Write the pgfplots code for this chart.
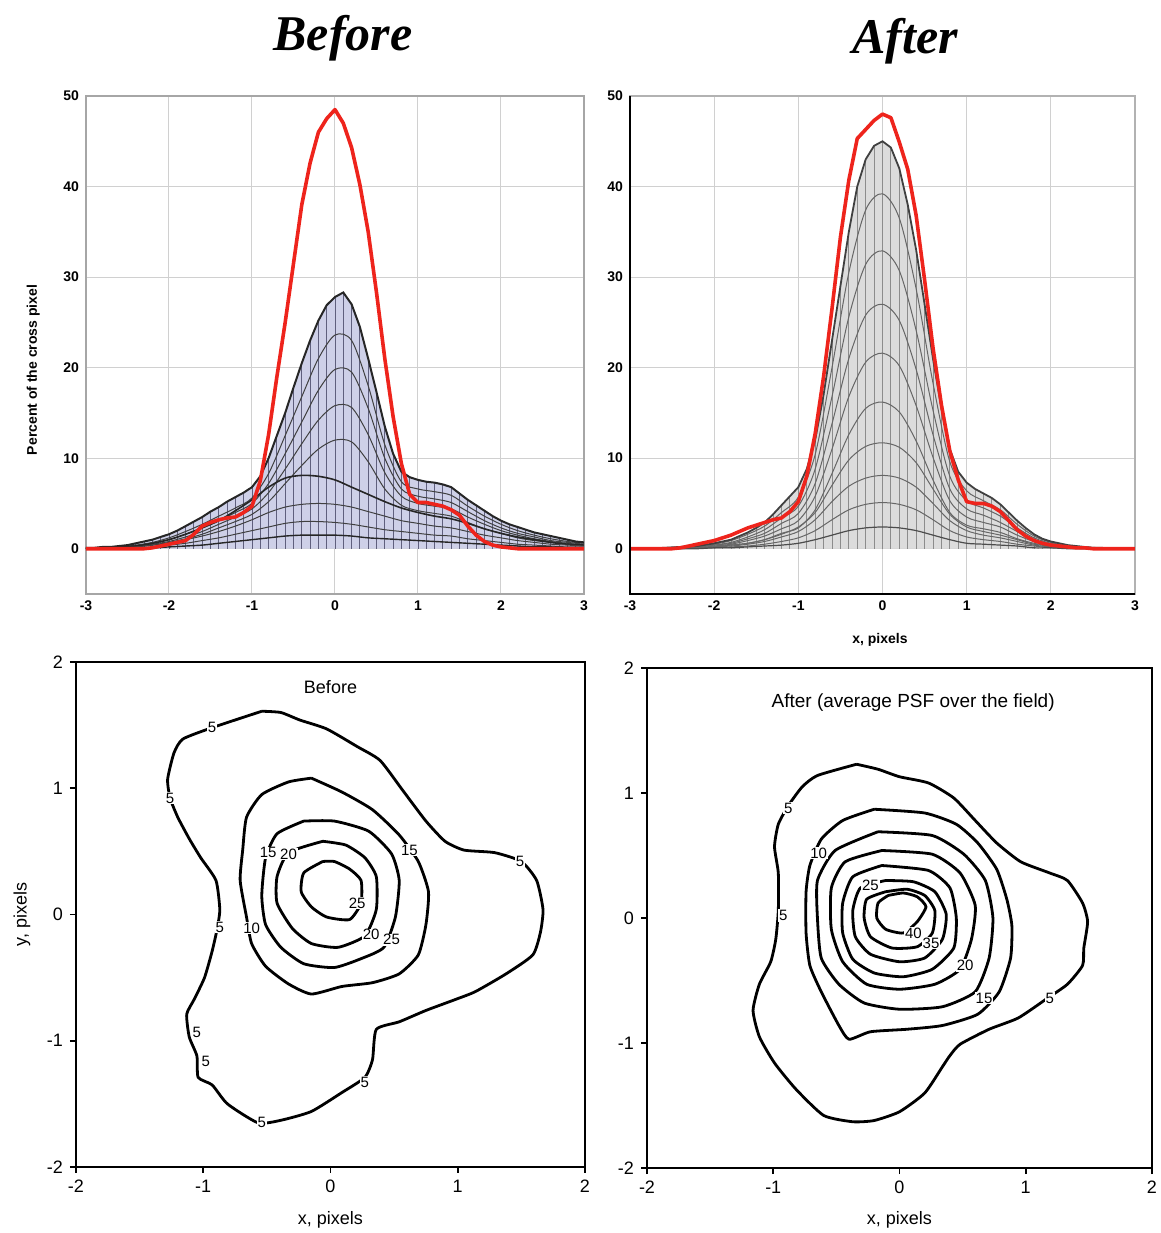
\documentclass[border=0pt]{standalone}
\usepackage{fontspec}
\setmainfont{Liberation Sans}
\newfontfamily\serifT{Liberation Serif}
\usepackage{pgfplots}
\pgfplotsset{compat=1.18}
\usepackage{pgfplotstable}

\definecolor{redc}{RGB}{238,36,28}
\definecolor{lav}{RGB}{206,208,232}
\definecolor{lgr}{RGB}{220,220,220}
\definecolor{gridc}{RGB}{208,208,208}
\definecolor{vlav}{RGB}{95,95,125}

% envelope of the profile family, Before
\pgfplotstableread{
x y
-3.0 0.1
-2.9 0.1
-2.8 0.2
-2.7 0.2
-2.6 0.3
-2.5 0.4
-2.4 0.6
-2.3 0.8
-2.2 1.0
-2.1 1.3
-2.0 1.6
-1.9 2.0
-1.8 2.5
-1.7 3.0
-1.6 3.5
-1.5 4.1
-1.4 4.6
-1.3 5.2
-1.2 5.7
-1.1 6.2
-1.0 6.8
-0.9 8.0
-0.8 10.0
-0.7 12.5
-0.6 15.0
-0.5 17.8
-0.4 20.5
-0.3 23.0
-0.2 25.2
-0.1 26.9
0.0 27.8
0.1 28.3
0.2 27.0
0.3 24.5
0.4 21.0
0.5 17.3
0.6 13.5
0.7 10.5
0.8 8.5
0.9 7.9
1.0 7.6
1.1 7.4
1.2 7.3
1.3 7.1
1.4 6.8
1.5 6.1
1.6 5.4
1.7 4.8
1.8 4.2
1.9 3.6
2.0 3.1
2.1 2.7
2.2 2.4
2.3 2.1
2.4 1.8
2.5 1.6
2.6 1.4
2.7 1.2
2.8 1.0
2.9 0.8
3.0 0.7
}\envB

\pgfplotstableread{
x y
-3.0 0
-2.9 0
-2.8 0
-2.7 0
-2.6 0
-2.5 0
-2.4 0
-2.3 0
-2.2 0.1
-2.1 0.3
-2.0 0.5
-1.9 0.7
-1.8 0.9
-1.7 1.6
-1.6 2.5
-1.5 2.9
-1.4 3.2
-1.3 3.4
-1.2 3.5
-1.1 4.0
-1.0 4.7
-0.9 7.5
-0.8 12.6
-0.7 19.0
-0.6 25.0
-0.5 31.5
-0.4 38.0
-0.3 42.6
-0.2 46.0
-0.1 47.5
0.0 48.5
0.1 47.0
0.2 44.3
0.3 40.2
0.4 35.0
0.5 28.3
0.6 21.0
0.7 14.6
0.8 9.4
0.9 6.0
1.0 5.1
1.1 5.1
1.2 4.9
1.3 4.7
1.4 4.3
1.5 3.7
1.6 2.5
1.7 1.5
1.8 0.8
1.9 0.4
2.0 0.2
2.1 0.1
2.2 0
2.4 0
2.6 0
2.8 0
3.0 0
}\redB

\pgfplotstableread{
x f1 f2 f3 f4 f5 f6 f7 f8
-3.0 0.1 0.1 0.1 0.0 0.0 0.0 0.0 0.0
-2.8 0.1 0.1 0.1 0.1 0.1 0.1 0.0 0.0
-2.6 0.2 0.2 0.1 0.1 0.2 0.1 0.1 0.0
-2.4 0.4 0.3 0.3 0.2 0.3 0.2 0.1 0.1
-2.2 0.7 0.6 0.5 0.4 0.6 0.4 0.2 0.1
-2.0 1.2 1.0 0.8 0.7 1.0 0.6 0.4 0.2
-1.8 1.9 1.6 1.3 1.1 1.6 1.0 0.6 0.3
-1.6 2.7 2.3 1.9 1.6 2.3 1.4 0.9 0.4
-1.4 3.6 3.1 2.7 2.3 3.1 1.9 1.2 0.6
-1.2 4.5 4.0 3.5 3.0 4.2 2.5 1.6 0.8
-1.0 5.6 5.0 4.4 3.8 5.4 3.2 2.0 1.0
-0.8 8.3 7.2 6.2 5.2 6.8 4.0 2.4 1.2
-0.6 12.5 10.5 8.8 7.2 7.8 4.6 2.8 1.4
-0.4 16.8 14.0 11.6 9.2 8.1 4.9 3.0 1.5
-0.2 21.0 17.5 14.2 11.0 8.0 5.0 3.0 1.5
0.0 23.6 19.8 15.8 12.0 7.6 4.9 2.9 1.5
0.2 23.0 19.5 15.6 11.8 6.8 4.6 2.7 1.4
0.4 18.0 15.5 12.6 9.6 6.0 4.1 2.4 1.2
0.6 11.5 10.0 8.4 6.6 5.2 3.6 2.1 1.1
0.8 7.4 6.6 5.8 4.8 4.5 3.1 1.9 1.0
1.0 6.6 5.8 5.0 4.2 4.0 2.8 1.7 0.9
1.2 6.3 5.5 4.7 3.9 3.6 2.5 1.5 0.8
1.4 5.9 5.1 4.4 3.6 3.3 2.3 1.4 0.7
1.6 4.7 4.1 3.5 2.9 2.8 1.9 1.1 0.6
1.8 3.6 3.1 2.7 2.2 2.2 1.5 0.9 0.5
2.0 2.7 2.3 2.0 1.7 1.7 1.2 0.7 0.4
2.2 2.0 1.7 1.5 1.2 1.3 0.9 0.5 0.3
2.4 1.5 1.3 1.1 0.9 1.0 0.7 0.4 0.2
2.6 1.1 0.9 0.8 0.7 0.7 0.5 0.3 0.2
2.8 0.8 0.7 0.6 0.5 0.5 0.4 0.2 0.1
3.0 0.6 0.5 0.4 0.4 0.4 0.3 0.2 0.1
}\famB

% After
\pgfplotstableread{
x y
-3.0 0
-2.9 0
-2.8 0
-2.7 0.05
-2.6 0.1
-2.5 0.15
-2.4 0.2
-2.3 0.25
-2.2 0.3
-2.1 0.45
-2.0 0.6
-1.9 0.8
-1.8 1.0
-1.7 1.4
-1.6 1.8
-1.5 2.3
-1.4 2.9
-1.3 3.8
-1.2 4.8
-1.1 5.8
-1.0 6.8
-0.9 8.8
-0.8 12.0
-0.7 17.0
-0.6 23.0
-0.5 29.0
-0.4 35.0
-0.3 40.0
-0.2 43.0
-0.1 44.5
0.0 45.0
0.1 44.3
0.2 42.0
0.3 38.0
0.4 33.0
0.5 27.0
0.6 21.0
0.7 15.5
0.8 11.0
0.9 8.5
1.0 7.3
1.1 6.6
1.2 6.1
1.3 5.6
1.4 4.9
1.5 4.0
1.6 3.1
1.7 2.3
1.8 1.6
1.9 1.1
2.0 0.8
2.1 0.6
2.2 0.4
2.3 0.3
2.4 0.2
2.5 0.1
2.6 0.1
2.7 0.05
2.8 0
2.9 0
3.0 0
}\envA

\pgfplotstableread{
x y
-3.0 0
-2.8 0
-2.6 0
-2.5 0
-2.4 0.1
-2.3 0.3
-2.2 0.5
-2.1 0.7
-2.0 0.9
-1.9 1.2
-1.8 1.5
-1.7 1.9
-1.6 2.3
-1.5 2.6
-1.4 2.9
-1.3 3.2
-1.2 3.4
-1.1 4.1
-1.0 5.2
-0.9 8.0
-0.8 12.7
-0.7 19.0
-0.6 26.5
-0.5 34.4
-0.4 40.7
-0.3 45.3
-0.2 46.3
-0.1 47.3
0.0 48.0
0.1 47.6
0.2 44.9
0.3 41.9
0.4 36.8
0.5 29.7
0.6 22.2
0.7 15.9
0.8 10.8
0.9 7.6
1.0 5.2
1.1 5.0
1.2 5.0
1.3 4.7
1.4 4.1
1.5 3.1
1.6 2.1
1.7 1.4
1.8 0.9
1.9 0.6
2.0 0.4
2.1 0.3
2.2 0.2
2.3 0.1
2.4 0.1
2.5 0
2.7 0
3.0 0
}\redA

\pgfplotstableread{
x g1 g2 g3 g4 g5 g6 g7 g8 g9
-3.0 0 0 0 0 0 0 0 0 0
-2.8 0 0 0 0 0 0 0 0 0
-2.6 0.1 0.1 0.1 0 0 0 0 0 0
-2.4 0.2 0.1 0.1 0.1 0.1 0.1 0.1 0 0
-2.2 0.3 0.2 0.2 0.1 0.1 0.1 0.1 0.1 0
-2.0 0.5 0.4 0.4 0.3 0.2 0.2 0.2 0.1 0.1
-1.8 0.9 0.7 0.6 0.5 0.4 0.4 0.3 0.2 0.1
-1.6 1.6 1.3 1.1 0.9 0.6 0.6 0.5 0.3 0.2
-1.4 2.5 2.1 1.7 1.4 1.0 1.0 0.8 0.5 0.3
-1.2 4.0 3.4 2.8 2.2 1.7 1.6 1.3 0.8 0.4
-1.0 5.7 4.7 3.9 3.1 2.3 2.4 1.9 1.2 0.6
-0.8 10.4 8.8 7.2 5.8 4.3 4.0 3.2 2.0 1.0
-0.6 20.0 16.8 13.8 11.0 8.3 7.0 5.2 3.2 1.5
-0.4 30.5 25.6 21.0 16.8 12.6 9.8 6.9 4.3 2.0
-0.2 37.4 31.4 25.8 20.6 15.5 11.3 7.8 4.9 2.3
0.0 39.2 32.9 27.0 21.6 16.2 11.7 8.1 5.1 2.4
0.2 36.5 30.7 25.2 20.2 15.1 11.2 7.8 4.9 2.3
0.4 28.7 24.1 19.8 15.8 11.9 9.5 6.8 4.3 2.0
0.6 18.3 15.3 12.6 10.1 7.6 6.6 5.0 3.2 1.5
0.8 9.6 8.0 6.6 5.3 4.0 3.8 3.1 2.0 1.0
1.0 6.4 5.3 4.4 3.5 2.6 2.4 2.0 1.3 0.6
1.2 5.3 4.5 3.7 2.9 2.2 1.9 1.5 1.0 0.5
1.4 4.3 3.6 2.9 2.4 1.8 1.5 1.2 0.8 0.4
1.6 2.7 2.3 1.9 1.5 1.1 1.0 0.8 0.5 0.3
1.8 1.4 1.2 1.0 0.8 0.6 0.5 0.4 0.3 0.1
2.0 0.7 0.6 0.5 0.4 0.3 0.3 0.2 0.1 0.1
2.2 0.3 0.3 0.2 0.2 0.1 0.1 0.1 0.1 0
2.4 0.2 0.1 0.1 0.1 0.1 0.1 0 0 0
2.6 0.1 0.1 0.1 0 0 0 0 0 0
2.8 0 0 0 0 0 0 0 0 0
3.0 0 0 0 0 0 0 0 0 0
}\famA

\pgfplotsset{
  every axis title shift=0pt,
  profax/.style={scale only axis, width=#1, height=249pt,
    xmin=-3, xmax=3, ymin=-5, ymax=50,
    xtick={-3,...,3}, ytick={0,10,...,50},
    grid=major, grid style={gridc, line width=0.5pt},
    major tick length=0pt,
    ticklabel style={font=\fontsize{7}{8}\selectfont\bfseries},
    /pgf/number format/assume math mode=true,
    clip mode=individual},
  contax/.style={scale only axis,
    xmin=-2, xmax=2, ymin=-2, ymax=2,
    xtick={-2,...,2}, ytick={-2,...,2},
    axis line style={black, line width=1.2pt},
    tick style={black, line width=0.8pt},
    tick align=outside, major tick length=3pt,
    xtick pos=left, ytick pos=left,
    ticklabel style={font=\fontsize{9}{10}\selectfont},
    /pgf/number format/assume math mode=true,
    label style={font=\fontsize{9}{10}\selectfont},
    clip mode=individual},
  cline/.style={black, line width=1.4pt, smooth, tension=0.35, line join=round},
  clab/.style={only marks, mark=*, mark size=0pt,
    mark options={draw=none, fill=none},
    nodes near coords, point meta=explicit symbolic,
    every node near coord/.append style={anchor=center, fill=white,
      draw=none, inner sep=0.4pt, font=\fontsize{7.5}{8}\selectfont,
      text=black, fill opacity=1, text opacity=1, opacity=1}},
}

\begin{document}
\begin{tikzpicture}
\path[use as bounding box] (0,0) rectangle (580.5pt,616.5pt);

% ---------------- top left: Before profiles
\begin{axis}[profax=249pt, at={(43pt,319.5pt)}, anchor=south west,
  axis line style={gray!70, line width=0.6pt},
  title={\serifT\bfseries\itshape Before},
  title style={at={(0.516,1.092)}, anchor=base, font=\fontsize{25}{28}\selectfont},
  ylabel={Percent of the cross pixel},
  ylabel style={at={(axis description cs:-0.106,0.45)}, anchor=center,
    font=\fontsize{7}{8}\selectfont\bfseries}]
\addplot[fill=lav, draw=none] table[x=x,y=y]{\envB} \closedcycle;
\addplot[ycomb, draw=vlav, line width=0.45pt] table[x=x,y=y]{\envB};
\addplot[black!75, line width=0.5pt, smooth] table[x=x,y=f1]{\famB};
\addplot[black!75, line width=0.5pt, smooth] table[x=x,y=f2]{\famB};
\addplot[black!75, line width=0.5pt, smooth] table[x=x,y=f3]{\famB};
\addplot[black!75, line width=0.5pt, smooth] table[x=x,y=f4]{\famB};
\addplot[black!85, line width=0.8pt, smooth] table[x=x,y=f5]{\famB};
\addplot[black!75, line width=0.5pt, smooth] table[x=x,y=f6]{\famB};
\addplot[black!75, line width=0.5pt, smooth] table[x=x,y=f7]{\famB};
\addplot[black!85, line width=0.7pt, smooth] table[x=x,y=f8]{\famB};
\addplot[black!85, line width=1pt] table[x=x,y=y]{\envB};
\addplot[redc, line width=1.8pt, line join=round] table[x=x,y=y]{\redB};
\end{axis}

% ---------------- top right: After profiles
\begin{axis}[profax=252.5pt, at={(315pt,319.5pt)}, anchor=south west,
  axis line style={gray!60, line width=0.6pt},
  title={\serifT\bfseries\itshape After},
  title style={at={(0.545,1.086)}, anchor=base, font=\fontsize{25}{28}\selectfont},
  xlabel={x, pixels},
  xlabel style={at={(axis description cs:0.495,-0.092)}, anchor=center,
    font=\fontsize{7}{8}\selectfont\bfseries}]
\addplot[fill=lgr, draw=none] table[x=x,y=y]{\envA} \closedcycle;
\addplot[ycomb, draw=black!45, line width=0.45pt] table[x=x,y=y]{\envA};
\addplot[black!60, line width=0.5pt, smooth] table[x=x,y=g1]{\famA};
\addplot[black!60, line width=0.5pt, smooth] table[x=x,y=g2]{\famA};
\addplot[black!60, line width=0.5pt, smooth] table[x=x,y=g3]{\famA};
\addplot[black!60, line width=0.5pt, smooth] table[x=x,y=g4]{\famA};
\addplot[black!60, line width=0.5pt, smooth] table[x=x,y=g5]{\famA};
\addplot[black!60, line width=0.5pt, smooth] table[x=x,y=g6]{\famA};
\addplot[black!60, line width=0.5pt, smooth] table[x=x,y=g7]{\famA};
\addplot[black!60, line width=0.5pt, smooth] table[x=x,y=g8]{\famA};
\addplot[black!70, line width=0.6pt, smooth] table[x=x,y=g9]{\famA};
\addplot[black!75, line width=0.9pt] table[x=x,y=y]{\envA};
\addplot[redc, line width=1.8pt, line join=round] table[x=x,y=y]{\redA};
\draw[black, line width=1pt] (rel axis cs:0,1) -- (rel axis cs:0,0) -- (rel axis cs:1,0);
\end{axis}

% ---------------- bottom left: Before contours
\begin{axis}[contax, at={(38pt,33pt)}, anchor=south west,
  width=254.5pt, height=252.5pt,
  title={Before}, title style={at={(0.5,0.95)}, anchor=center, font=\fontsize{9}{10}\selectfont},
  xlabel={x, pixels}, ylabel={y, pixels},
  xlabel style={at={(axis description cs:0.5,-0.105)}, anchor=center},
  ylabel style={at={(axis description cs:-0.106,0.5)}, anchor=center}]
\addplot[cline] coordinates {(-0.54,1.61) (-0.93,1.48) (-1.16,1.39) (-1.23,1.28) (-1.28,1.07) (-1.26,0.92) (-1.20,0.77) (-1.11,0.60) (-1.02,0.45) (-0.90,0.27) (-0.87,0.04) (-0.89,-0.11) (-0.93,-0.29) (-0.99,-0.50) (-1.07,-0.67) (-1.13,-0.79) (-1.11,-0.97) (-1.05,-1.12) (-1.04,-1.29) (-0.93,-1.35) (-0.81,-1.50) (-0.57,-1.65) (-0.39,-1.63) (-0.15,-1.56) (0.09,-1.41) (0.27,-1.29) (0.33,-1.15) (0.36,-0.91) (0.54,-0.85) (0.75,-0.76) (0.99,-0.67) (1.14,-0.61) (1.38,-0.47) (1.59,-0.32) (1.65,-0.14) (1.67,0.04) (1.62,0.27) (1.50,0.42) (1.29,0.49) (1.05,0.51) (0.90,0.58) (0.75,0.74) (0.57,0.98) (0.39,1.22) (0.21,1.33) (-0.03,1.47) (-0.24,1.54) (-0.39,1.60) (-0.54,1.61)};
\addplot[cline] coordinates {(-0.15,1.08) (-0.33,1.05) (-0.54,0.95) (-0.66,0.77) (-0.69,0.51) (-0.71,0.27) (-0.66,-0.02) (-0.62,-0.23) (-0.51,-0.41) (-0.33,-0.55) (-0.15,-0.63) (0.09,-0.57) (0.33,-0.54) (0.54,-0.47) (0.69,-0.32) (0.75,-0.08) (0.77,0.18) (0.69,0.42) (0.54,0.63) (0.33,0.83) (0.09,0.97) (-0.15,1.08)};
\addplot[cline] coordinates {(-0.21,0.74) (-0.42,0.64) (-0.51,0.45) (-0.54,0.15) (-0.51,-0.08) (-0.39,-0.26) (-0.21,-0.39) (0.03,-0.42) (0.24,-0.35) (0.42,-0.26) (0.51,-0.02) (0.54,0.27) (0.48,0.48) (0.30,0.66) (0.03,0.74) (-0.21,0.74)};
\addplot[cline] coordinates {(-0.06,0.58) (-0.33,0.49) (-0.42,0.30) (-0.42,0.09) (-0.30,-0.11) (-0.15,-0.23) (0.06,-0.26) (0.27,-0.17) (0.36,0.04) (0.36,0.30) (0.27,0.45) (0.12,0.55) (-0.06,0.58)};
\addplot[cline] coordinates {(-0.06,0.42) (-0.21,0.33) (-0.23,0.18) (-0.15,0.06) (-0.03,-0.02) (0.15,-0.04) (0.24,0.09) (0.24,0.27) (0.15,0.36) (0.03,0.42) (-0.06,0.42)};
\addplot[clab] table[x=x,y=y,meta=l]{
x y l
-0.93 1.48 5
-1.26 0.92 5
-0.87 -0.10 5
-1.05 -0.93 5
-0.98 -1.16 5
-0.54 -1.65 5
0.27 -1.33 5
1.49 0.42 5
-0.62 -0.11 10
-0.49 0.49 15
-0.33 0.48 20
0.62 0.51 15
0.21 0.09 25
0.32 -0.16 20
0.48 -0.20 25
};
\end{axis}

% ---------------- bottom right: After contours
\begin{axis}[contax, at={(323.5pt,32.5pt)}, anchor=south west,
  width=252.5pt, height=250pt,
  title={After (average PSF over the field)},
  title style={at={(0.527,0.93)}, anchor=center, font=\fontsize{9.5}{10}\selectfont},
  xlabel={x, pixels},
  xlabel style={at={(axis description cs:0.5,-0.104)}, anchor=center}]
\addplot[cline] coordinates {(-0.34,1.23) (-0.65,1.14) (-0.77,1.05) (-0.88,0.90) (-0.96,0.75) (-0.99,0.57) (-0.96,0.36) (-0.96,0.06) (-0.98,-0.17) (-1.02,-0.35) (-1.11,-0.53) (-1.16,-0.74) (-1.11,-0.95) (-0.99,-1.16) (-0.82,-1.37) (-0.60,-1.58) (-0.37,-1.63) (-0.20,-1.62) (0.00,-1.55) (0.20,-1.40) (0.34,-1.19) (0.40,-1.10) (0.48,-1.01) (0.71,-0.89) (0.94,-0.80) (1.16,-0.65) (1.33,-0.53) (1.45,-0.38) (1.46,-0.24) (1.49,-0.03) (1.45,0.12) (1.33,0.30) (1.19,0.36) (0.96,0.45) (0.77,0.60) (0.60,0.78) (0.43,0.96) (0.23,1.08) (0.00,1.13) (-0.17,1.19) (-0.34,1.23)};
\addplot[cline] coordinates {(-0.20,0.87) (-0.45,0.78) (-0.62,0.63) (-0.71,0.42) (-0.74,0.21) (-0.74,-0.12) (-0.71,-0.38) (-0.62,-0.59) (-0.48,-0.86) (-0.40,-0.97) (-0.23,-0.91) (0.06,-0.89) (0.34,-0.86) (0.62,-0.77) (0.79,-0.59) (0.88,-0.32) (0.89,-0.06) (0.85,0.15) (0.77,0.39) (0.62,0.60) (0.45,0.75) (0.20,0.84) (-0.20,0.87)};
\addplot[cline] coordinates {(-0.17,0.69) (-0.51,0.54) (-0.65,0.30) (-0.65,0.00) (-0.62,-0.32) (-0.48,-0.53) (-0.28,-0.68) (0.00,-0.73) (0.34,-0.71) (0.60,-0.59) (0.71,-0.32) (0.74,0.00) (0.68,0.30) (0.51,0.51) (0.26,0.66) (-0.17,0.69)};
\addplot[cline] coordinates {(-0.14,0.54) (-0.43,0.45) (-0.54,0.24) (-0.54,-0.09) (-0.45,-0.35) (-0.26,-0.53) (0.00,-0.57) (0.28,-0.53) (0.48,-0.41) (0.57,-0.17) (0.60,0.10) (0.48,0.36) (0.26,0.51) (-0.14,0.54)};
\addplot[cline] coordinates {(-0.14,0.42) (-0.37,0.33) (-0.45,0.12) (-0.45,-0.12) (-0.37,-0.33) (-0.20,-0.44) (0.03,-0.47) (0.26,-0.41) (0.43,-0.24) (0.45,0.00) (0.40,0.24) (0.23,0.38) (-0.14,0.42)};
\addplot[cline] coordinates {(-0.11,0.30) (-0.31,0.24) (-0.37,0.06) (-0.35,-0.15) (-0.23,-0.29) (0.00,-0.35) (0.20,-0.32) (0.34,-0.17) (0.37,0.03) (0.28,0.21) (0.11,0.29) (-0.11,0.30)};
\addplot[cline] coordinates {(-0.11,0.21) (-0.26,0.15) (-0.28,0.00) (-0.23,-0.15) (-0.06,-0.24) (0.14,-0.23) (0.26,-0.12) (0.28,0.06) (0.20,0.18) (0.06,0.23) (-0.11,0.21)};
\addplot[cline] coordinates {(-0.09,0.18) (-0.17,0.12) (-0.18,0.00) (-0.11,-0.09) (0.03,-0.12) (0.14,-0.03) (0.21,0.09) (0.14,0.17) (0.03,0.20) (-0.09,0.18)};
\addplot[clab] table[x=x,y=y,meta=l]{
x y l
-0.88 0.88 5
-0.92 0.02 5
1.19 -0.64 5
-0.64 0.52 10
-0.23 0.26 25
0.11 -0.12 40
0.25 -0.20 35
0.52 -0.38 20
0.67 -0.64 15
};
\end{axis}
\end{tikzpicture}
\end{document}
